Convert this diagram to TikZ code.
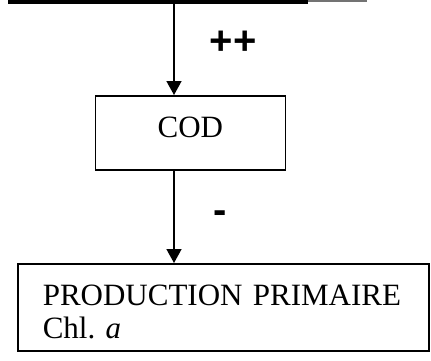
\documentclass[tikz,border=0pt]{standalone}
\usepackage{fontspec}
\setmainfont{Liberation Serif}
\newfontfamily\signfont{Liberation Sans}
\usetikzlibrary{arrows.meta}
\tikzset{
  boxline/.style={draw=black, line width=1.6pt, inner sep=0pt},
  conn/.style={draw=black, line width=1.6pt, -{Triangle[width=15pt,length=14pt]}},
  signlbl/.style={font=\signfont\bfseries\fontsize{40}{40}\selectfont, inner sep=0pt}
}
\begin{document}
\begin{tikzpicture}[x=1pt,y=1pt]
\useasboundingbox (0,0) rectangle (431,-360);
% top bar (bottom edge of a cut-off box)
\node[fill=black, inner sep=0pt, minimum width=300pt, minimum height=3.5pt, anchor=north west] (bar) at (8,0) {};
\draw[line width=1.4pt, draw=black!55] (bar.north east) ++(0,-1) coordinate (barend) -- ++(59,0);
% COD box
\node[boxline, font=\fontsize{31}{33}\selectfont, minimum width=190pt, text height=42pt, text depth=32pt, anchor=north west] (cod) at (94.5,-95) {COD};
% Production box
\node[boxline, font=\fontsize{31}{33}\selectfont, text width=361pt, inner xsep=25pt, inner ysep=0pt, align=left, anchor=north west] (prod) at (17,-263)
  {\rule{0pt}{42pt}PRODUCTION PRIMAIRE\\Chl.\ \textit{a}\rule[-12pt]{0pt}{12pt}};
% connectors
\coordinate (lx) at (174,0);
\draw[conn] (bar.south -| lx) -- (cod.north -| lx);
\draw[conn] (cod.south -| lx) -- (prod.north -| lx);
% sign labels
\node[signlbl] (pp) at (233,-43) {++};
\node[signlbl] (mm) at (220,-217) {-};
\end{tikzpicture}
\end{document}
